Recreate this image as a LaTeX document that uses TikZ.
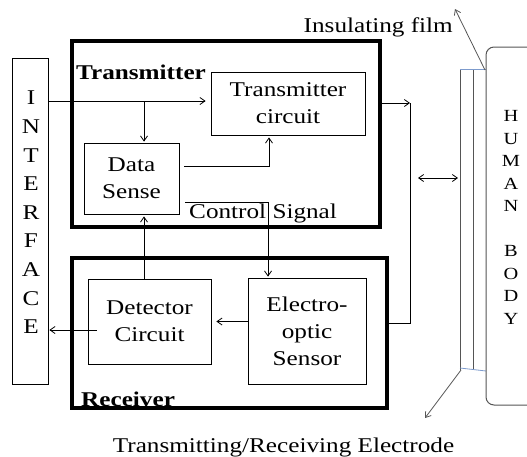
\documentclass[tikz,border=0pt]{standalone}
\usepackage{fontspec}
\setmainfont[FakeStretch=1.2]{Liberation Serif}
\usetikzlibrary{arrows.meta, positioning, calc}
\definecolor{elecgray}{RGB}{85,85,85}
\definecolor{filmblue}{RGB}{125,155,205}
\tikzset{
	blk/.style={draw, line width=0.8pt, inner sep=0pt, align=center,
		font=\fontsize{21}{27}\selectfont},
	frame/.style={draw, line width=3.5pt, inner sep=0pt},
	txt/.style={inner sep=0pt, align=center, font=\fontsize{21}{27}\selectfont},
	bold/.style={inner sep=0pt, font=\fontsize{21}{27}\selectfont\bfseries},
	arr/.style={->, >={Straight Barb[length=5pt,width=7pt]}, line width=0.8pt},
}

\begin{document}
\begin{tikzpicture}[x=1pt, y=-1pt]
			\useasboundingbox (0,0) rectangle (527,456);
			% frames
			\node[frame, minimum width=308, minimum height=186] (tx) at (226,134) {};
			\node[frame, minimum width=315, minimum height=150] (rx) at (229.5,333) {};
			\node[bold, anchor=base west] (txlbl) at (76,79) {Transmitter};
			\node[bold, anchor=base west] (rxlbl) at (81,406) {Receiver};
			
			% interface
			\node[blk, minimum width=36, minimum height=326] (iface) at (30,221) {};
			\node[txt, font=\fontsize{21}{28.6}\selectfont] (ifacetxt) at (31,212.5)
				{I\\N\\T\\E\\R\\F\\A\\C\\E};
			
			% blocks
			\node[blk, minimum width=154, minimum height=63] (tcirc) at (288,103.5) {Transmitter\\circuit};
			\node[blk, minimum width=95, minimum height=71] (dsense) at (131.5,178.5) {Data\\Sense};
			\node[blk, minimum width=123, minimum height=85] (detect) at (149.5,321.5) {Detector\\Circuit};
			\node[blk, minimum width=118, minimum height=106] (eosens) at (307,331) {Electro-\\optic\\Sensor};
			\node[txt, anchor=base west] (ctrllbl) at (189,218) {Control Signal};
			
			% electrode and body
			\draw[elecgray, line width=1pt] (460,69) -- (460,370);
			\draw[elecgray, line width=1pt] (473,69) -- (473,370);
			\draw[filmblue, line width=0.8pt] (460,69) -- (486,69);
			\draw[filmblue, line width=0.8pt] (460,368) -- (486,371);
			\node[draw=elecgray, line width=1pt, rounded corners=8pt, minimum width=70,
				minimum height=358] (body) at (521,226) {};
			\node[txt, font=\fontsize{17}{22.5}\selectfont] (bodytxt) at (511,217.5)
				{H\\U\\M\\A\\N\\ \\B\\O\\D\\Y};
			\node[txt, anchor=base east] (filmlbl) at (453,32) {Insulating film};
			\node[txt, anchor=base] (eleclbl) at (283.5,452) {Transmitting/Receiving Electrode};
			
			% connectors
			\coordinate (split) at (144,101);
			\coordinate (ctrl) at (185,202);
			\coordinate (tap) at (410,103);
			\coordinate (rxin) at (410,323);
			\coordinate (bus) at (418,178);
			\coordinate (busR) at (458,178);
			\coordinate (film) at (485,70);
			\coordinate (filmtip) at (455,9);
			\coordinate (elec) at (461,370);
			\coordinate (electip) at (425,418);
			\coordinate (dout) at ($(detect.west)+(9,8.5)$);
			\coordinate (dsout) at ($(dsense.east)+(5,-12.5)$);
			
			\draw[arr, shorten >=5pt] (iface.east |- split) -- (tcirc.west |- split);
			\draw[arr, shorten >=1pt] (split) -- (dsense.north -| split);
			\draw[arr, shorten >=2pt] (dsout) -| ([xshift=-19pt]tcirc.south);
			\draw[arr, shorten >=1pt] (ctrl) -| ([xshift=-39pt]eosens.north);
			\draw[arr, shorten >=2pt] (detect.north -| split) -- (dsense.south -| split);
			\draw[arr, shorten >=5pt] (eosens.west |- detect.east) -- (detect.east);
			\draw[arr, shorten >=1pt] (dout) -- (iface.east |- dout);
			\draw[arr] (tx.east |- tap) -- (tap);
			\draw[line width=0.8pt] (tap) -- (rxin) -- (rx.east |- rxin);
			\draw[arr, <->] (bus) -- (busR);
			\draw[arr, elecgray] (film) -- (filmtip);
			\draw[arr, elecgray] (elec) -- (electip);
		\end{tikzpicture}
\end{document}
